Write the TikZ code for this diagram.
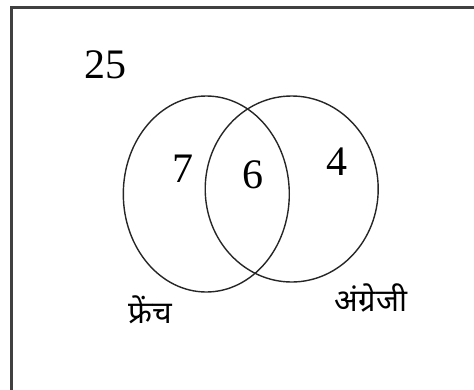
\documentclass[tikz,border=0pt]{standalone}
\usepackage{fontspec}
\setmainfont{Liberation Serif}
\newfontfamily\devfont[Script=Devanagari]{Noto Sans}
\begin{document}
\begin{tikzpicture}[x=1pt,y=-1pt,
  setline/.style={draw=black!85, line width=1.4pt},
  num/.style={font=\fontsize{42}{42}\selectfont, inner sep=0pt, anchor=base},
  lab/.style={font=\devfont\fontsize{31}{31}\selectfont, inner sep=0pt}]
\useasboundingbox (0,0) rectangle (474,389);
\draw[draw=black!75, line width=2.2pt] (11.5,392) coordinate (bl) -- (11.5,7.5) coordinate (tl) -- (477,7.5) coordinate (tr);
\draw[setline] (206.3,194) ellipse [x radius=83, y radius=98];
\draw[setline] (291.7,189) ellipse [x radius=86.5, y radius=93];
\node[num] (u) at (105.5,78) {25};
\node[num] (a) at (182.5,182) {7};
\node[num] (b) at (252.5,188) {6};
\node[num] (c) at (337,175) {4};
\node[lab] (f) at (150.5,310) {फ्रेंच};
\node[lab] (e) at (371,298) {अंग्रेजी};
\end{tikzpicture}
\end{document}
